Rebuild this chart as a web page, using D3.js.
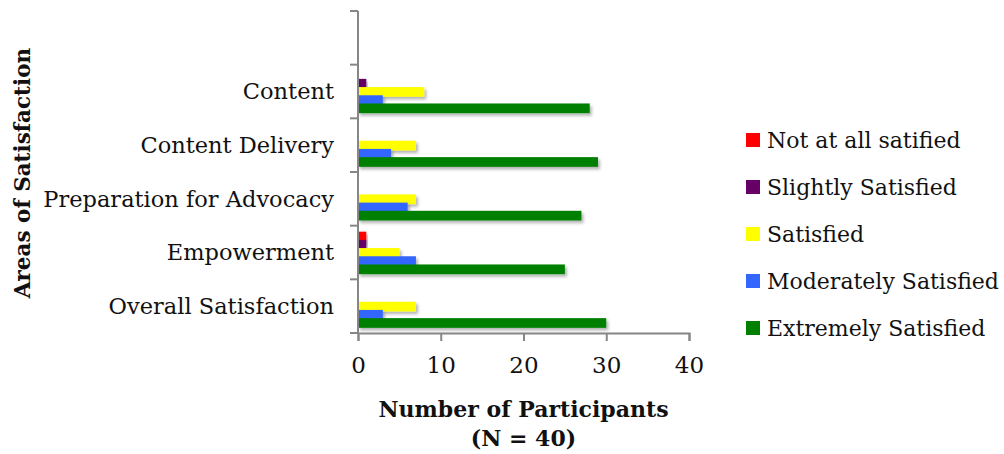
<!DOCTYPE html>
<html>
<head>
<meta charset="utf-8" />
<title>Areas of Satisfaction</title>
<script src="https://d3js.org/d3.v7.min.js"></script>
<style>
body { margin: 0; background: white; }
text { font-family: "DejaVu Serif", serif; fill: #111; }
</style>
</head>
<body>
<script>
// chart data
var categories = ["", "Content", "Content Delivery", "Preparation for Advocacy", "Empowerment", "Overall Satisfaction"];
var seriesNames = ["Not at all satified", "Slightly Satisfied", "Satisfied", "Moderately Satisfied", "Extremely Satisfied"];
var seriesColors = ["#ff0000", "#660066", "#ffff00", "#3366ff", "#008000"];
var notAtAll   = [0, 0, 0, 0, 1, 0];
var slightly   = [0, 1, 0, 0, 1, 0];
var satisfied  = [0, 8, 7, 7, 5, 7];
var moderately = [0, 3, 4, 6, 7, 3];
var extremely  = [0, 28, 29, 27, 25, 30];
var xTicks = [0, 10, 20, 30, 40];

var values = [notAtAll, slightly, satisfied, moderately, extremely];

var width = 1004, height = 454;
var svg = d3.select("body").append("svg")
  .attr("width", width)
  .attr("height", height);

// light drop shadow like the excel bars
var defs = svg.append("defs");
defs.append("filter").attr("id", "shadow")
  .attr("x", "-10%").attr("y", "-30%").attr("width", "130%").attr("height", "200%")
  .append("feDropShadow")
  .attr("dx", 2).attr("dy", 2.5).attr("stdDeviation", 1.6)
  .attr("flood-color", "#000").attr("flood-opacity", 0.3);

var x = d3.scaleLinear().domain([0, 40]).range([358, 689]);
var y = d3.scaleBand().domain(categories).range([11, 333]);

// series positions inside a band
var step = 8.2, barH = 9.7, offset = 6;

var bars = svg.append("g");
categories.forEach(function(cat, ci) {
  values.forEach(function(vals, si) {
    if (vals[ci] <= 0) return;
    bars.append("rect")
      .attr("x", x(0))
      .attr("y", y(cat) + offset + si * step)
      .attr("width", x(vals[ci]) - x(0))
      .attr("height", barH)
      .attr("fill", seriesColors[si])
      .attr("filter", "url(#shadow)");
  });
});

var axisColor = "#868686";

// y axis (line + tick marks at band edges)
var yAxis = svg.append("g");
yAxis.append("line")
  .attr("x1", x(0)).attr("x2", x(0))
  .attr("y1", y.range()[0]).attr("y2", y.range()[1])
  .attr("stroke", axisColor).attr("stroke-width", 2);
var edges = categories.map(function(c) { return y(c); }).concat([y.range()[1]]);
yAxis.selectAll("line.tk").data(edges).enter().append("line")
  .attr("class", "tk")
  .attr("x1", x(0) - 8).attr("x2", x(0))
  .attr("y1", function(d) { return d; }).attr("y2", function(d) { return d; })
  .attr("stroke", axisColor).attr("stroke-width", 2);
yAxis.selectAll("text").data(categories).enter().append("text")
  .attr("x", 334)
  .attr("y", function(d) { return y(d) + y.bandwidth() / 2; })
  .attr("dy", "0.35em")
  .attr("text-anchor", "end")
  .attr("font-size", 22.5)
  .text(function(d) { return d; });

// x axis
var xAxis = svg.append("g").attr("transform", "translate(0,333)")
  .call(d3.axisBottom(x).tickValues(xTicks).tickSize(8).tickPadding(16));
xAxis.select(".domain").attr("stroke", axisColor).attr("stroke-width", 2);
xAxis.selectAll(".tick line").attr("stroke", axisColor).attr("stroke-width", 2);
xAxis.selectAll(".tick text")
  .attr("font-size", 23)
  .attr("font-family", "DejaVu Serif")
  .attr("fill", "#111");

// axis titles
var xMid = (x.range()[0] + x.range()[1]) / 2;
svg.append("text")
  .attr("transform", "translate(30,173) rotate(-90)")
  .attr("text-anchor", "middle")
  .attr("font-size", 21.5)
  .attr("font-weight", "bold")
  .text("Areas of Satisfaction");
svg.append("text")
  .attr("x", xMid).attr("y", 417)
  .attr("text-anchor", "middle")
  .attr("font-size", 22)
  .attr("font-weight", "bold")
  .text("Number of Participants");
svg.append("text")
  .attr("x", xMid).attr("y", 446)
  .attr("text-anchor", "middle")
  .attr("font-size", 22)
  .attr("font-weight", "bold")
  .text("(N = 40)");

// legend
var legend = svg.append("g");
var items = legend.selectAll("g").data(seriesNames).enter().append("g")
  .attr("transform", function(d, i) { return "translate(746," + (140 + i * 47) + ")"; });
items.append("rect")
  .attr("x", 0).attr("y", -7)
  .attr("width", 14).attr("height", 14)
  .attr("fill", function(d, i) { return seriesColors[i]; });
items.append("text")
  .attr("x", 21).attr("dy", "0.35em")
  .attr("font-size", 22)
  .text(function(d) { return d; });
</script>
</body>
</html>
